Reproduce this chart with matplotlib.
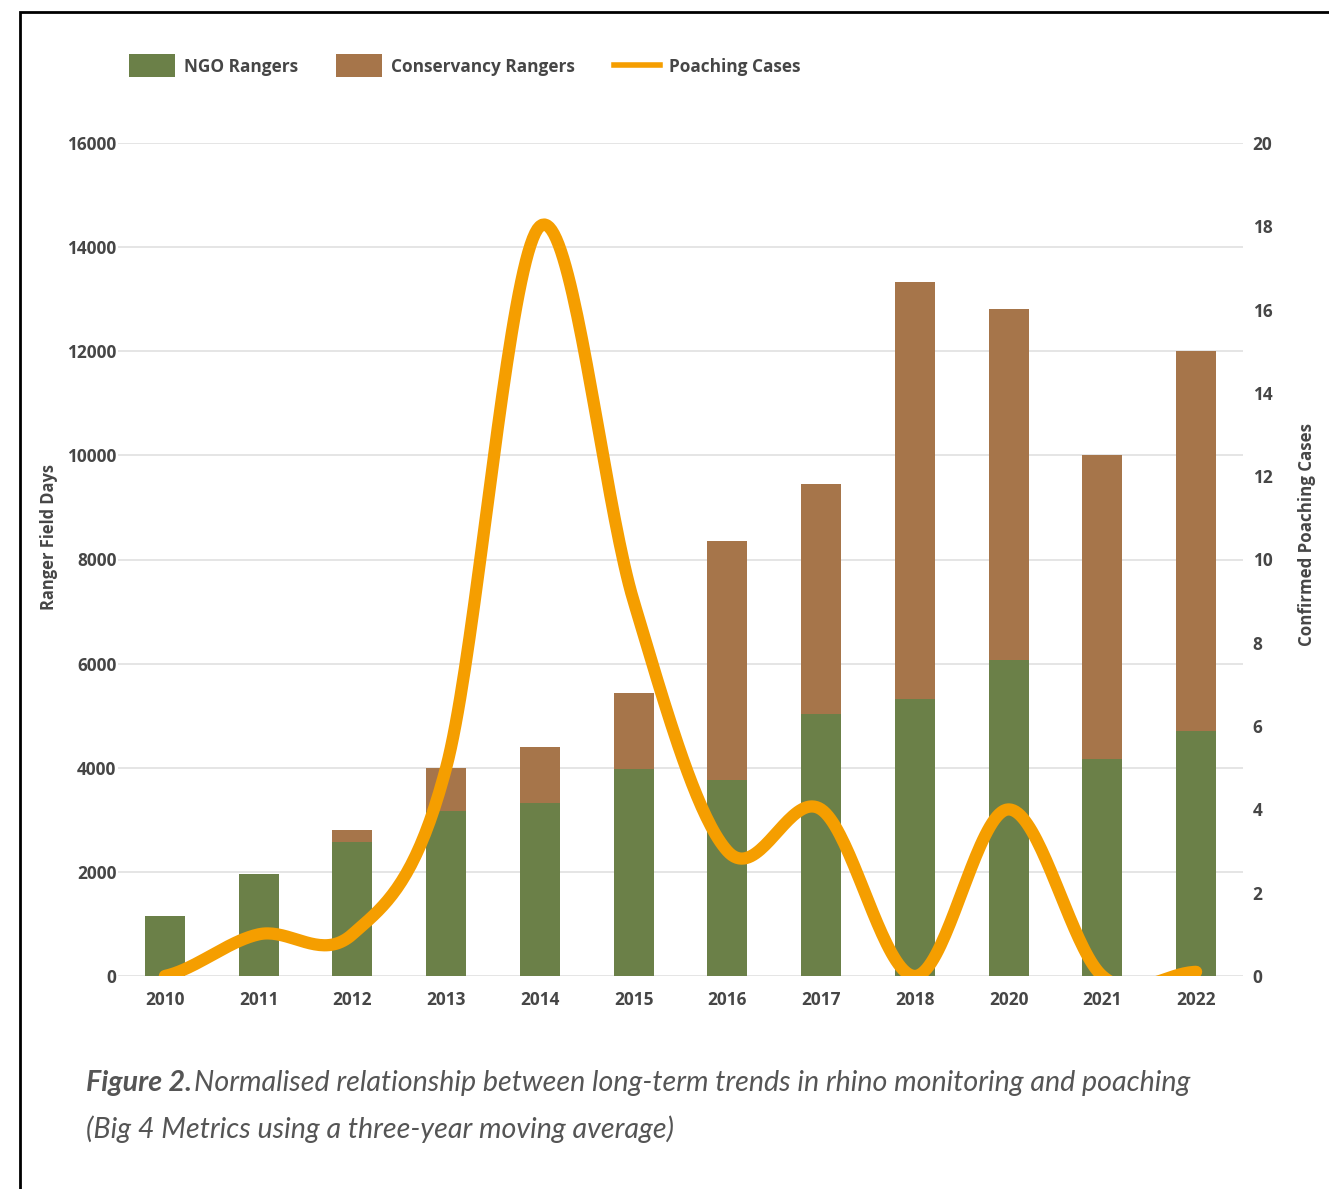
import matplotlib
matplotlib.use("Agg")
import matplotlib.pyplot as plt
from matplotlib.patches import Rectangle
from matplotlib.lines import Line2D
import numpy as np

# ---------------- data ----------------
years = ["2010", "2011", "2012", "2013", "2014", "2015", "2016",
         "2017", "2018", "2020", "2021", "2022"]
ngo_rangers = [1150, 1960, 2580, 3175, 3320, 3980, 3765, 5030, 5320, 6070, 4170, 4710]
conservancy_rangers = [0, 0, 220, 825, 1080, 1460, 4595, 4420, 8010, 6740, 5830, 7290]
poaching_cases = [0, 1, 1, 5, 18, 9, 3, 4, 0, 4, 0, 0.1]
left_ticks = [0, 2000, 4000, 6000, 8000, 10000, 12000, 14000, 16000]
right_ticks = [0, 2, 4, 6, 8, 10, 12, 14, 16, 18, 20]

GREEN = "#6b8048"
BROWN = "#a6754a"
ORANGE = "#f59e00"
TXT = "#464646"
GRID = "#e0e0e0"

W, H = 1329, 1189
def fx(px): return px / W
def fy(py): return 1 - py / H

TICKFONT = dict(family="Open Sans", weight="bold", size=12.4, color=TXT)

fig = plt.figure(figsize=(W / 100, H / 100), dpi=100)
fig.patch.set_facecolor("white")

ax = fig.add_axes([fx(118), fy(976), (1243 - 118) / W, (976 - 143) / H])
x = np.arange(len(years))
ax.bar(x, ngo_rangers, width=0.427, color=GREEN, zorder=2)
ax.bar(x, conservancy_rangers, bottom=ngo_rangers, width=0.427, color=BROWN, zorder=2)
ax.set_xlim(-0.5, len(years) - 0.5)
ax.set_ylim(0, 16000)
ax.set_yticks(left_ticks)
ax.set_yticklabels([str(t) for t in left_ticks], fontdict=TICKFONT)
ax.set_xticks(x)
ax.set_xticklabels(years, fontdict=TICKFONT)
ax.tick_params(axis="both", length=0)
ax.tick_params(axis="y", pad=1)
ax.tick_params(axis="x", pad=11)
ax.grid(axis="y", color=GRID, lw=1.2, zorder=0)
ax.set_axisbelow(True)
for s in ax.spines.values():
    s.set_visible(False)

# smoothed poaching line (Catmull-Rom through the data points)
def catmull_rom(xs, ys, n=40):
    ys = np.asarray(ys, float)
    m = np.zeros_like(ys)
    m[1:-1] = (ys[2:] - ys[:-2]) / 2
    m[0] = (ys[1] - ys[0]) / 2
    m[-1] = (ys[-1] - ys[-2]) / 2
    px, py = [], []
    for i in range(len(ys) - 1):
        t = np.linspace(0, 1, n, endpoint=(i == len(ys) - 2))
        h00 = 2 * t**3 - 3 * t**2 + 1
        h10 = t**3 - 2 * t**2 + t
        h01 = -2 * t**3 + 3 * t**2
        h11 = t**3 - t**2
        py.append(h00 * ys[i] + h10 * m[i] + h01 * ys[i + 1] + h11 * m[i + 1])
        px.append(xs[i] + t * (xs[i + 1] - xs[i]))
    return np.concatenate(px), np.concatenate(py)

ax2 = ax.twinx()
sx, sy = catmull_rom(x, poaching_cases)
ax2.plot(sx, sy, color=ORANGE, lw=8.8, solid_capstyle="round", zorder=3)
ax2.set_ylim(0, 20)
ax2.set_yticks(right_ticks)
ax2.set_yticklabels([str(t) for t in right_ticks], fontdict=TICKFONT)
ax2.tick_params(axis="y", length=0, pad=7)
for s in ax2.spines.values():
    s.set_visible(False)

# axis titles
fig.text(fx(49), fy(537), "Ranger Field Days", rotation=90, ha="center", va="center",
         family="Open Sans", weight="bold", size=11.9, color=TXT)
fig.text(fx(1307), fy(535), "Confirmed Poaching Cases", rotation=90, ha="center", va="center",
         family="Open Sans", weight="bold", size=12.2, color=TXT)

# legend
LEGFONT = dict(family="Open Sans", weight="bold", size=12.4, color=TXT, va="center", ha="left")
fig.patches.append(Rectangle((fx(129), fy(77)), 46 / W, 23 / H, transform=fig.transFigure,
                             facecolor=GREEN, edgecolor="none"))
fig.text(fx(184), fy(67), "NGO Rangers", **LEGFONT)
fig.patches.append(Rectangle((fx(336), fy(77)), 46 / W, 23 / H, transform=fig.transFigure,
                             facecolor=BROWN, edgecolor="none"))
fig.text(fx(391), fy(67), "Conservancy Rangers", **LEGFONT)
fig.lines.append(Line2D([fx(614), fx(660)], [fy(65), fy(65)], transform=fig.transFigure,
                        color=ORANGE, lw=4))
fig.text(fx(669), fy(67), "Poaching Cases", **LEGFONT)

# caption
CAP = dict(family="Lato", style="italic", size=20.6, color="#555555", va="baseline", ha="left")
t1 = fig.text(fx(86), fy(1091), "Figure 2.", weight="bold", **CAP)
fig.canvas.draw()
bb = t1.get_window_extent(fig.canvas.get_renderer())
fig.text(bb.x1 / W + 2 / W, fy(1091),
         "Normalised relationship between long-term trends in rhino monitoring and poaching", **CAP)
fig.text(fx(86), fy(1138), "(Big 4 Metrics using a three-year moving average)", **CAP)

# frame
fig.patches.append(Rectangle((fx(20), fy(1300)), 1400 / W, (1300 - 12) / H,
                             transform=fig.transFigure, facecolor="none",
                             edgecolor="black", lw=2))

fig.savefig("out.png", dpi=100)
